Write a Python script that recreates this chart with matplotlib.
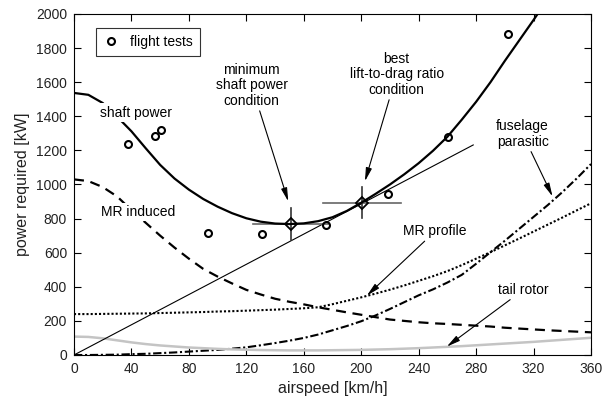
import numpy as np
import matplotlib
matplotlib.use("Agg")
import matplotlib.pyplot as plt

plt.rcParams['font.family'] = ['Liberation Sans', 'DejaVu Sans']

# curves, every 10 km/h
v = np.arange(0, 370, 10)
shaft = [1537, 1526, 1478, 1398, 1312, 1212, 1115, 1035, 970, 915, 870, 832, 802, 782,
         771, 768, 772, 785, 808, 845, 893, 945, 1000, 1060, 1125, 1198, 1280, 1380,
         1485, 1600, 1725, 1845, 1965, 2090, 2210, 2330, 2450]
induced = [1030, 1020, 985, 930, 850, 775, 700, 630, 565, 505, 460, 420, 382, 355, 330,
           312, 297, 280, 265, 250, 236, 222, 208, 200, 192, 186, 182, 177, 172, 167,
           160, 155, 150, 145, 141, 137, 133]
profile = [240, 240, 241, 242, 243, 244, 246, 248, 250, 252, 255, 257, 260, 263, 266,
           270, 274, 280, 298, 318, 338, 360, 383, 408, 435, 462, 492, 527, 565, 603,
           643, 683, 724, 765, 806, 848, 890]
parasitic = [0, 0, 1, 2, 5, 7, 11, 15, 20, 25, 30, 37, 45, 57, 70, 84, 100, 120, 145, 170,
             198, 232, 270, 310, 350, 385, 425, 470, 535, 603, 670, 740, 810, 880, 955,
             1035, 1120]
tail = [108, 106, 98, 86, 74, 64, 56, 50, 44, 40, 36, 33, 31, 29, 28, 27, 27, 27, 28, 29,
        30, 32, 34, 37, 40, 44, 48, 52, 57, 62, 67, 72, 77, 83, 89, 95, 101]

# flight tests
v_test = [37.6, 56.4, 60.4, 93.1, 130.7, 175.3, 218.9, 260.7, 301.9]
p_test = [1240, 1283, 1318, 715, 709, 760, 946, 1280, 1881]

# marked conditions with their bars
v_cond = [150.9, 200.5]
p_cond = [768, 893]
v_err = [26, 27]
p_err = [94, 90]

# tangent line from origin
v_tan = [0, 278]
p_tan = [0, 1232]

fig = plt.figure(figsize=(6.03, 4.0), dpi=100)
ax = fig.add_axes([0.1227, 0.1125, 0.8574, 0.8525])

ax.plot(v, shaft, color='k', lw=1.6, zorder=3)
ax.plot(v, induced, color='k', lw=1.6, ls=(0, (4.5, 3)))
ax.plot(v, profile, color='k', lw=1.5, ls=(0, (1, 1)))
ax.plot(v, parasitic, color='k', lw=1.5, ls=(0, (4, 1.3, 1, 1.3)))
ax.plot(v, tail, color='#c4c4c4', lw=1.8)
ax.plot(v_tan, p_tan, color='k', lw=0.8)

for i in range(2):
    ax.plot([v_cond[i] - v_err[i], v_cond[i] + v_err[i]], [p_cond[i], p_cond[i]],
            color='0.4', lw=1.2, zorder=2)
    ax.plot([v_cond[i], v_cond[i]], [p_cond[i] - p_err[i], p_cond[i] + p_err[i]],
            color='0.2', lw=1.2, zorder=2)
ax.plot(v_cond, p_cond, ls='none', marker='D', ms=6, mfc='none', mec='k', mew=1.3, zorder=4)

ax.plot(v_test, p_test, ls='none', marker='o', ms=5, mfc='none', mec='k', mew=1.5,
        label='flight tests', zorder=4)

wbox = dict(fc='white', ec='none', pad=1.5)
ax.text(43.2, 1422, 'shaft power', fontsize=10, ha='center', va='center', bbox=wbox, zorder=5)
ax.text(45, 837, 'MR induced', fontsize=10, ha='center', va='center', bbox=wbox, zorder=5)

arr = dict(arrowstyle='-|>,head_length=0.8,head_width=0.18', color='k', lw=0.8,
           shrinkA=0, shrinkB=0)
ax.annotate('minimum\nshaft power\ncondition', xy=(149.2, 901), xytext=(123.7, 1581),
            fontsize=10, ha='center', va='center', arrowprops=arr, linespacing=1.15)
ax.annotate('best\nlift-to-drag ratio\ncondition', xy=(202.6, 1019), xytext=(224.7, 1646),
            fontsize=10, ha='center', va='center', arrowprops=arr, linespacing=1.15)
ax.annotate('fuselage\nparasitic', xy=(333.2, 930), xytext=(312.4, 1296),
            fontsize=10, ha='center', va='center', arrowprops=arr, linespacing=1.15)
ax.annotate('MR profile', xy=(203.9, 348), xytext=(251.4, 725),
            fontsize=10, ha='center', va='center', arrowprops=arr)
ax.annotate('tail rotor', xy=(259.6, 49), xytext=(312.9, 382),
            fontsize=10, ha='center', va='center', arrowprops=arr)

ax.set_xlim(0, 360)
ax.set_ylim(0, 2000)
ax.set_xticks(np.arange(0, 361, 40))
ax.set_yticks(np.arange(0, 2001, 200))
ax.tick_params(direction='in', top=True, right=True, length=5, labelsize=10,
               labelcolor='#222222', pad=5)
ax.set_xlabel('airspeed [km/h]', fontsize=11.5, color='#222222')
ax.set_ylabel('power required [kW]', fontsize=11.5, color='#222222')

leg = ax.legend(loc='upper left', bbox_to_anchor=(0.042, 0.958), borderaxespad=0,
                fancybox=False, edgecolor='k', fontsize=10, handlelength=1.2,
                handletextpad=0.8, borderpad=0.5)
leg.get_frame().set_linewidth(0.8)

fig.savefig('out.png', dpi=100)
